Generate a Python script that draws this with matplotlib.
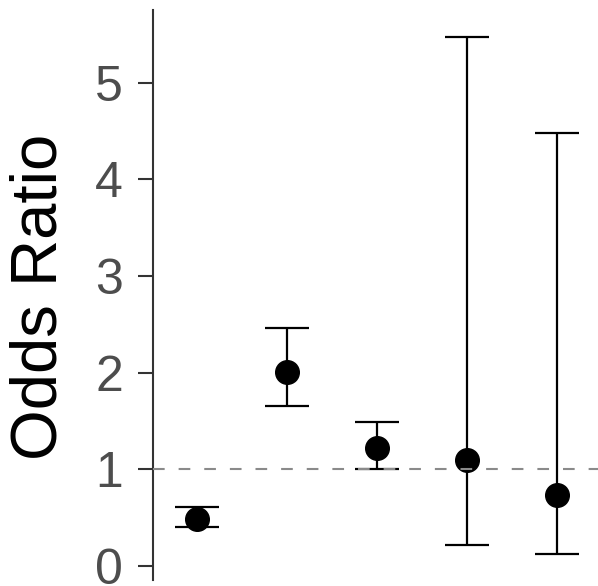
"""
Odds ratio point estimates with 95% CI whiskers, reference line at OR = 1.
"""

import numpy as np
import matplotlib.pyplot as plt

plt.rcParams["font.family"] = ["Liberation Sans", "DejaVu Sans"]

# ---------------------------------------------------------------------------
# Data
# ---------------------------------------------------------------------------

groups = [1, 2, 3, 4, 5]
odds_ratio = [0.49, 2.01, 1.22, 1.10, 0.73]
ci_lower = [0.40, 1.65, 1.00, 0.22, 0.12]
ci_upper = [0.61, 2.46, 1.49, 5.47, 4.48]
y_ticks = [0, 1, 2, 3, 4, 5]

# ---------------------------------------------------------------------------
# Plot
# ---------------------------------------------------------------------------

fig = plt.figure(figsize=(5.98, 5.86), dpi=100)
fig.patch.set_facecolor("white")
ax = fig.add_axes([0.2564, 0.0102, 0.7436, 0.9727])
ax.set_facecolor("white")

or_arr = np.array(odds_ratio)
yerr = np.vstack([or_arr - np.array(ci_lower), np.array(ci_upper) - or_arr])

ax.errorbar(groups, or_arr, yerr=yerr, fmt="o", color="black",
            markersize=17, elinewidth=1.6, capsize=16, capthick=1.6,
            zorder=2)

# dashed reference line sits on top of the markers
ax.axhline(1, color="#8a8a8a", linewidth=1.5,
           linestyle=(0, (5.6, 6.7)), zorder=3)

ax.set_xlim(0.515, 5.456)
ax.set_ylim(-0.145, 5.75)

ax.set_yticks(y_ticks)
ax.set_xticks([])
ax.tick_params(axis="y", labelsize=36, labelcolor="#4d4d4d", color="#333333",
               length=11, width=1.5, pad=11)

for side in ("top", "right", "bottom"):
    ax.spines[side].set_visible(False)
ax.spines["left"].set_color("#333333")
ax.spines["left"].set_linewidth(1.5)

fig.text(40 / 598, 1 - 297 / 586, "Odds Ratio", rotation=90,
         ha="center", va="center", fontsize=47, color="black")

plt.savefig("out.png", dpi=100, facecolor="white")
plt.close()
